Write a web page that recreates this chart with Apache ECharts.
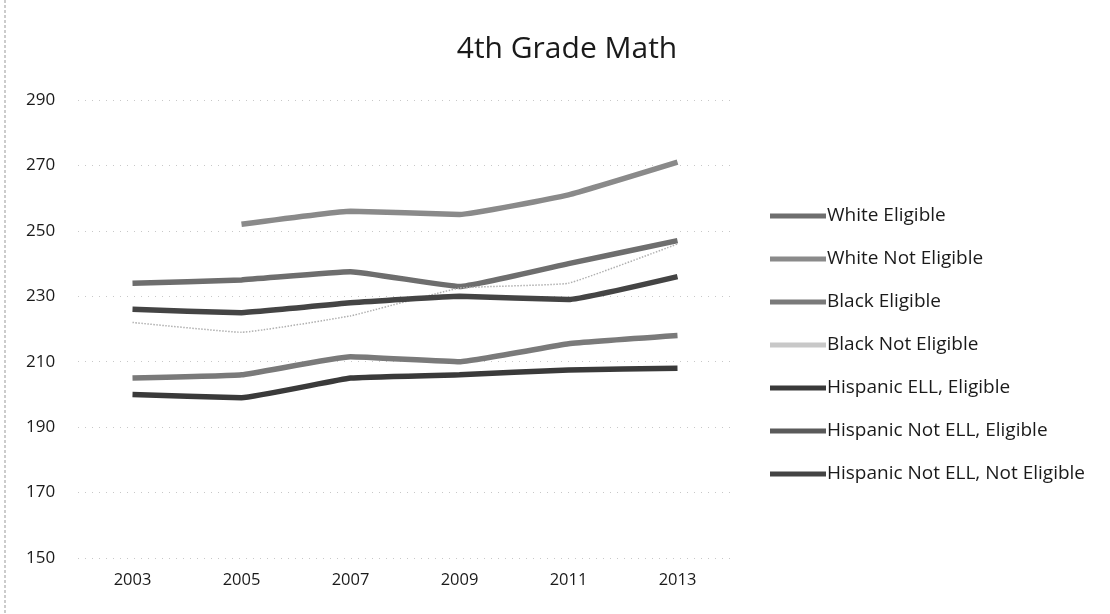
<!DOCTYPE html>
<html>
<head>
<meta charset="utf-8">
<script src="https://cdn.jsdelivr.net/npm/echarts@6/dist/echarts.min.js"></script>
<style>
html,body{margin:0;padding:0;background:#fff;}
#c{width:1110px;height:614px;}
</style>
</head>
<body>
<div id="c"></div>
<script>
const years = ['2003','2005','2007','2009','2011','2013'];
const seriesNames = ['White Eligible','White Not Eligible','Black Eligible','Black Not Eligible','Hispanic ELL, Eligible','Hispanic Not ELL, Eligible','Hispanic Not ELL, Not Eligible'];
const whiteEligible = [234, 235, 237.5, 233, 240, 247];
const whiteNotEligible = [null, 252, 256, 255, 261, 271];
const blackEligible = [205, 206, 211.5, 210, 215.5, 218];
const blackNotEligible = [222, 219, 224, 232.5, 234, 246];
const hispanicEllEligible = [200, 199, 205, 206, 207.5, 208];
const hispanicNotEllEligible = [null, null, null, null, null, null];
const hispanicNotEllNotEligible = [226, 225, 228, 230, 229, 236];
const yTicks = {min:150, max:290, interval:20};

const values = [whiteEligible, whiteNotEligible, blackEligible, blackNotEligible, hispanicEllEligible, hispanicNotEllEligible, hispanicNotEllNotEligible];
const styles = [
  {color:'#6e6e6e', width:5.5, type:'solid'},
  {color:'#8a8a8a', width:5.5, type:'solid'},
  {color:'#7a7a7a', width:5.5, type:'solid'},
  {color:'#b0b0b0', width:1.5, type:'dotted'},
  {color:'#3a3a3a', width:5.5, type:'solid'},
  {color:'#5a5a5a', width:5.5, type:'solid'},
  {color:'#444444', width:5.5, type:'solid'}
];

const chart = echarts.init(document.getElementById('c'), null, {renderer:'canvas'});
chart.setOption({
  backgroundColor:'#fff',
  animation:false,
  title:{text:'4th Grade Math', left:562, top:29, textAlign:'center',
    textStyle:{fontFamily:'Open Sans', fontSize:30, fontWeight:'normal', color:'#1a1a1a'}},
  grid:{left:78, right:378, top:100, bottom:56, containLabel:false},
  legend:{orient:'vertical', left:765, top:201, itemWidth:56, itemHeight:5, itemGap:23,
    icon:'rect',
    data:seriesNames.map((n,i)=>({name:n, itemStyle:{color:styles[i].color, opacity: i===3?0.7:1}})),
    textStyle:{fontFamily:'Open Sans', fontSize:19, color:'#1a1a1a', lineHeight:20, padding:[0,0,0,-4]}},
  xAxis:{type:'category', data:years, boundaryGap:true,
    axisLine:{show:false}, axisTick:{show:false},
    axisLabel:{fontFamily:'Open Sans', fontSize:16.5, color:'#1a1a1a', margin:14}},
  yAxis:{type:'value', min:yTicks.min, max:yTicks.max, interval:yTicks.interval,
    axisLine:{show:false}, axisTick:{show:false},
    axisLabel:{fontFamily:'Open Sans', fontSize:17, color:'#1a1a1a', align:'left', margin:52},
    splitLine:{lineStyle:{color:'#c8c8c8', type:[1,6], width:1}}},
  graphic:[{type:'line', shape:{x1:5,y1:0,x2:5,y2:614}, style:{stroke:'#999', lineDash:[3,2], lineWidth:1}}],
  series: seriesNames.map((n,i)=>({
    name:n, type:'line', data:values[i], showSymbol:false, symbol:'none', smooth:0.1,
    lineStyle:styles[i], itemStyle:{color:styles[i].color}
  }))
});
</script>
</body>
</html>
